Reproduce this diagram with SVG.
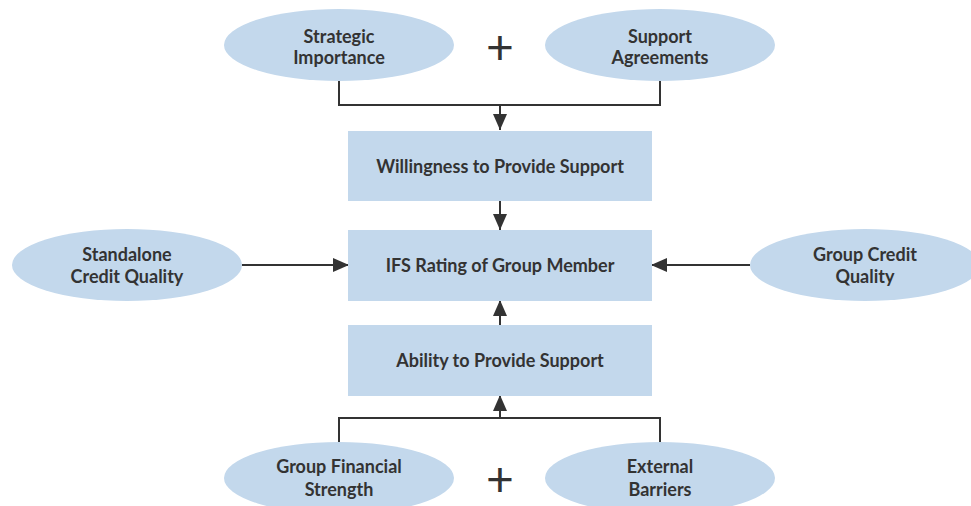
<svg xmlns="http://www.w3.org/2000/svg" width="971" height="506" viewBox="0 0 971 506">
<defs>
<style>
.n{fill:#c3d8ec;stroke:none}
.t{font-family:Lato,"Open Sans","Liberation Sans",sans-serif;font-weight:bold;font-size:18px;fill:#333;text-anchor:middle}
.c{fill:none;stroke:#333;stroke-width:2}
.p{font-family:Lato,"Liberation Sans",sans-serif;font-size:48px;fill:#333;text-anchor:middle}
</style>
<marker id="a" viewBox="0 0 16 14" refX="16" refY="7" markerWidth="16" markerHeight="14" markerUnits="userSpaceOnUse" orient="auto">
<path d="M0,0 L16,7 L0,14 Z" fill="#333"/>
</marker>
</defs>
<rect width="971" height="506" fill="#fff"/>
<g id="connectors">
<path class="c" d="M339,80 V105 H660 V80"/>
<path class="c" d="M500,105 V130" marker-end="url(#a)"/>
<path class="c" d="M500,201 V230" marker-end="url(#a)"/>
<path class="c" d="M242,265 H349" marker-end="url(#a)"/>
<path class="c" d="M750,265 H651" marker-end="url(#a)"/>
<path class="c" d="M500,325 V300" marker-end="url(#a)"/>
<path class="c" d="M339,443 V418 H660 V443"/>
<path class="c" d="M500,418 V395" marker-end="url(#a)"/>
</g>
<g id="strategic-importance">
<ellipse class="n" cx="339" cy="45" rx="115" ry="36"/>
<text class="t" x="339" y="42.5">Strategic</text>
<text class="t" x="339" y="63.5">Importance</text>
</g>
<g id="plus-top"><text class="p" x="500" y="64">+</text></g>
<g id="support-agreements">
<ellipse class="n" cx="660" cy="45" rx="115" ry="36"/>
<text class="t" x="660" y="42.5">Support</text>
<text class="t" x="660" y="63.5">Agreements</text>
</g>
<g id="willingness">
<rect class="n" x="348" y="131" width="304" height="70"/>
<text class="t" x="500" y="172.5">Willingness to Provide Support</text>
</g>
<g id="standalone">
<ellipse class="n" cx="127" cy="265" rx="115" ry="36"/>
<text class="t" x="127" y="261">Standalone</text>
<text class="t" x="127" y="283">Credit Quality</text>
</g>
<g id="ifs-rating">
<rect class="n" x="348" y="230" width="304" height="71"/>
<text class="t" x="500" y="271.5">IFS Rating of Group Member</text>
</g>
<g id="group-credit">
<ellipse class="n" cx="865" cy="265" rx="115" ry="36"/>
<text class="t" x="865" y="261">Group Credit</text>
<text class="t" x="865" y="283">Quality</text>
</g>
<g id="ability">
<rect class="n" x="348" y="325" width="304" height="71"/>
<text class="t" x="500" y="366.5">Ability to Provide Support</text>
</g>
<g id="group-financial">
<ellipse class="n" cx="339" cy="478" rx="115" ry="36"/>
<text class="t" x="339" y="472.5">Group Financial</text>
<text class="t" x="339" y="495.5">Strength</text>
</g>
<g id="plus-bottom"><text class="p" x="500" y="496">+</text></g>
<g id="external-barriers">
<ellipse class="n" cx="660" cy="478" rx="115" ry="36"/>
<text class="t" x="660" y="472.5">External</text>
<text class="t" x="660" y="495.5">Barriers</text>
</g>
</svg>
